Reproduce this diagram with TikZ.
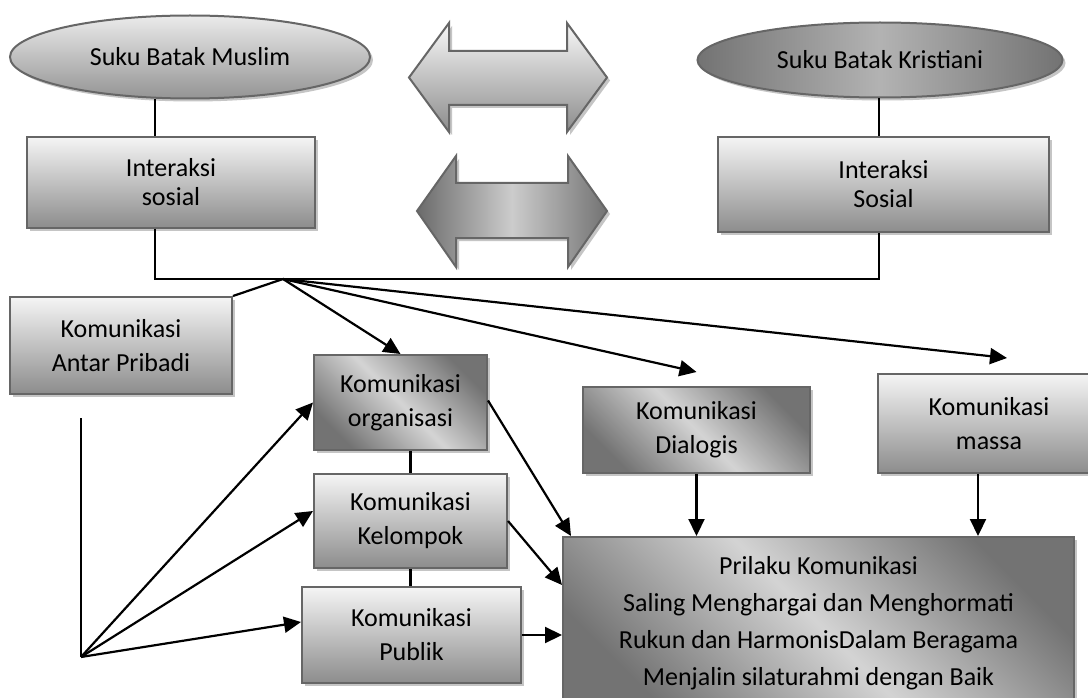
\documentclass[tikz,border=0pt]{standalone}
\usepackage{fontspec}
\setmainfont{Carlito}
\usetikzlibrary{positioning,shapes.geometric,arrows.meta,shadows,calc}
\tikzstyle{shade1} = [drop shadow={shadow xshift=3pt, shadow yshift=-3pt, %
   fill=black!45, opacity=.5}]
\tikzstyle{oval} = [ellipse, draw=black!60, line width=2pt, shade1]
\tikzstyle{box1} = [rectangle, draw=black!60, line width=2pt, shade1, %
   top color=black!4, bottom color=black!45, align=center]
\tikzstyle{box2} = [rectangle, draw=black!60, line width=2pt, shade1, %
   top color=black!55, bottom color=black!55, middle color=black!17, %
   shading angle=-45, align=center]
\tikzstyle{link} = [draw, line width=2.2pt]
\tikzstyle{line} = [draw, line width=2.2pt, -{Triangle[length=17pt,width=16pt]}]

\begin{document}
\begin{tikzpicture}[x=1pt, y=-1pt, font=\fontsize{26}{34}\selectfont]
   \path[use as bounding box, fill=white] (0,0) rectangle (1088,698);

   % Place nodes
   \node[oval, top color=black!8, bottom color=black!42, %
      minimum width=360pt, minimum height=83pt] (muslim) at (190,57) {Suku Batak Muslim};
   \node[oval, left color=black!55, right color=black!55, middle color=black!30, %
      minimum width=365pt, minimum height=75pt] (kristiani) at (880,60) {Suku Batak Kristiani};

   \node[box1, minimum width=288pt, minimum height=91pt, %
      font=\fontsize{26}{29}\selectfont] (interaksiA) at (171,182.5) {Interaksi\\sosial};
   \node[box1, minimum width=331pt, minimum height=95pt, %
      font=\fontsize{26}{29}\selectfont] (interaksiB) at (883.5,184.5) {Interaksi\\Sosial};

   \node[box1, minimum width=222pt, minimum height=97pt] (antar) at (121,345.5) {Komunikasi\\Antar Pribadi};
   \node[box2, minimum width=173pt, minimum height=95pt] (organisasi) at (400.5,402.5) {Komunikasi\\organisasi};
   \node[box1, minimum width=193pt, minimum height=94pt] (kelompok) at (410.5,521) {Komunikasi\\Kelompok};
   \node[box1, minimum width=219pt, minimum height=96pt] (publik) at (411.5,635) {Komunikasi\\Publik};
   \node[box2, minimum width=227pt, minimum height=86pt] (dialogis) at (696.5,430) {Komunikasi\\Dialogis};
   \node[box1, minimum width=222pt, minimum height=99pt] (massa) at (989,423.5) {Komunikasi\\massa};

   \node[box2, minimum width=511pt, minimum height=173pt, %
      font=\fontsize{26}{37}\selectfont] (prilaku) at (818.5,623.5) {%
      Prilaku Komunikasi\\Saling Menghargai dan Menghormati\\%
      Rukun dan HarmonisDalam Beragama\\Menjalin silaturahmi dengan Baik};

   % double arrows
   \path[draw=black!60, line width=2pt, shade1, top color=black!3, bottom color=black!45] %
      (409,77.5) -- (449,23) -- (449,51) -- (567,51) -- (567,23) -- (607,77.5) %
      -- (567,132) -- (567,105) -- (449,105) -- (449,132) -- cycle;
   \path[draw=black!60, line width=2pt, shade1, %
      left color=black!58, right color=black!55, middle color=black!20] %
      (417,211) -- (456,156) -- (456,183) -- (568,183) -- (568,156) -- (607,211) %
      -- (568,267) -- (568,238) -- (456,238) -- (456,267) -- cycle;

   \coordinate (joinA) at (155,279);
   \coordinate (joinB) at (879,279);
   \coordinate (hub) at (283,279);
   \coordinate (roottop) at (81,418);
   \coordinate (root) at (81,657);

   % Draw edges
   \path [link] (muslim.south -| joinA) -- (interaksiA.north -| joinA);
   \path [link] (kristiani.south -| joinB) -- (interaksiB.north -| joinB);
   \path [link] (interaksiA.south -| joinA) -- (joinA) -- (joinB) -- (interaksiB.south -| joinB);

   \path [link] (hub) -- (antar.north east);
   \path [line] (hub) -- (organisasi.north);
   \path [line] (hub) -- ([yshift=14pt]dialogis.north);
   \path [line] (hub) -- ([xshift=18pt,yshift=15pt]massa.north);

   \path [link] (roottop) -- (root);
   \path [line] (root) -- (organisasi.west);
   \path [line] (root) -- ([yshift=10pt]kelompok.west);
   \path [line] (root) -- ([yshift=13pt]publik.west);

   \path [link] (organisasi.south -| kelompok.north) -- (kelompok.north);
   \path [link] (kelompok.south) -- (kelompok.south |- publik.north);

   \path [line] ([yshift=2pt]organisasi.east) -- ([xshift=9pt]prilaku.north west);
   \path [line] (kelompok.east) -- ([yshift=-49pt]prilaku.north west);
   \path [line] (publik.east) -- (publik.east -| prilaku.west);
   \path [line] (dialogis.south) -- (dialogis.south |- prilaku.north);
   \path [line] ([xshift=-11pt]massa.south) -- ([xshift=-11pt]massa.south |- prilaku.north);
\end{tikzpicture}
\end{document}
